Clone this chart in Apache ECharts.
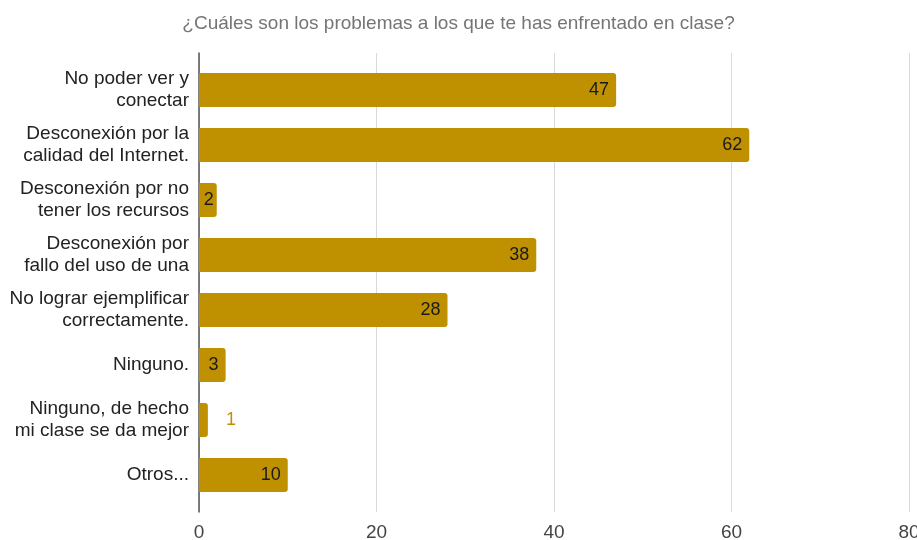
<!DOCTYPE html>
<html>
<head>
<meta charset="utf-8">
<script src="https://cdn.jsdelivr.net/npm/echarts@6/dist/echarts.min.js"></script>
<style>html,body{margin:0;padding:0;background:#fff}#c{width:917px;height:540px}</style>
</head>
<body>
<div id="c"></div>
<script>
const titleText = '¿Cuáles son los problemas a los que te has enfrentado en clase?';
const categories = [
  'No poder ver y\nconectar',
  'Desconexión por la\ncalidad del Internet.',
  'Desconexión por no\ntener los recursos',
  'Desconexión por\nfallo del uso de una',
  'No lograr ejemplificar\ncorrectamente.',
  'Ninguno.',
  'Ninguno, de hecho\nmi clase se da mejor',
  'Otros...'
];
const values = [47, 62, 2, 38, 28, 3, 1, 10];
const xTicks = [0, 20, 40, 60, 80];

const font = 'Liberation Sans, Arial, sans-serif';
const gold = '#BF9000';

const chart = echarts.init(document.getElementById('c'), null, {renderer: 'canvas'});
chart.setOption({
  backgroundColor: '#fff',
  animation: false,
  title: {
    text: titleText, left: 'center', top: 9,
    textStyle: {fontFamily: font, fontSize: 19, fontWeight: 'normal', color: '#757575'}
  },
  grid: [
    {left: 199, right: 8, top: 53, bottom: 28, containLabel: false, outerBoundsMode: 'none'},
    {left: 199, right: 8, top: 62.5, height: 440, containLabel: false, outerBoundsMode: 'none'}
  ],
  xAxis: [
    {
      gridIndex: 0, type: 'value', min: xTicks[0], max: xTicks[xTicks.length - 1], interval: 20,
      axisLine: {show: false}, axisTick: {show: false},
      splitLine: {show: true, lineStyle: {color: '#d9d9d9', width: 1}},
      axisLabel: {fontFamily: font, fontSize: 19, color: '#444', margin: 11}
    },
    {
      gridIndex: 1, type: 'value', min: xTicks[0], max: xTicks[xTicks.length - 1],
      show: false
    }
  ],
  yAxis: [
    {
      gridIndex: 0, type: 'value', min: 0, max: 1,
      axisLine: {show: true, lineStyle: {color: '#555', width: 1.5}},
      axisTick: {show: false}, axisLabel: {show: false}, splitLine: {show: false}
    },
    {
      gridIndex: 1, type: 'category', inverse: true, data: categories,
      axisLine: {show: false}, axisTick: {show: false},
      axisLabel: {fontFamily: font, fontSize: 19, color: '#222', margin: 10, lineHeight: 22, align: 'right'}
    }
  ],
  series: [{
    type: 'bar', xAxisIndex: 1, yAxisIndex: 1,
    barWidth: 34,
    itemStyle: {color: gold, borderRadius: [0, 3, 3, 0]},
    data: values.map(v => v < 2 ? {
      value: v,
      label: {position: 'right', distance: 18, color: gold}
    } : v === 2 ? {value: v, label: {distance: 3}} : v),
    label: {
      show: true, position: 'insideRight', distance: 7,
      fontFamily: font, fontSize: 18, color: '#1a1a1a'
    }
  }]
});
</script>
</body>
</html>
